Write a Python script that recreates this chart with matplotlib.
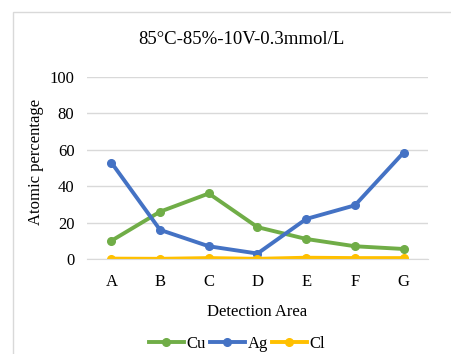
import matplotlib
matplotlib.use("Agg")
import matplotlib.pyplot as plt
from matplotlib.patches import Rectangle

categories = ["A", "B", "C", "D", "E", "F", "G"]
cu = [10, 26, 36, 17.5, 11, 7, 5.5]
ag = [53, 16, 7, 3, 22, 29.5, 58.5]
cl = [0.2, 0.1, 0.5, 0.1, 0.7, 0.5, 0.5]
yticks = [0, 20, 40, 60, 80, 100]

plt.rcParams['font.family'] = ['Liberation Serif', 'DejaVu Serif']

W, H = 452, 354
fig = plt.figure(figsize=(W/100, H/100), dpi=100)
# border
fig.patches.append(Rectangle((13/W, -0.1), 1.2, (H-12)/H + 0.1, transform=fig.transFigure,
                             fill=False, edgecolor='#d9d9d9', linewidth=1.0))

ax = fig.add_axes([87/W, 1-259/H, (428-87)/W, (259-77)/H])
x = list(range(len(categories)))
ax.plot(x, cu, color='#70ad47', lw=2.8, marker='o', ms=5.5, label='Cu')
ax.plot(x, ag, color='#4472c4', lw=2.8, marker='o', ms=5.5, label='Ag')
ax.plot(x, cl, color='#ffc000', lw=2.8, marker='o', ms=5.5, label='Cl')

ax.set_xlim(-0.5, 6.5)
ax.set_ylim(0, 100)
ax.set_yticks(yticks)
ax.set_xticks(x)
ax.set_xticklabels(categories)
ax.grid(axis='y', color='#d9d9d9', lw=1)
ax.set_axisbelow(True)
for s in ['top', 'right', 'left']:
    ax.spines[s].set_visible(False)
ax.spines['bottom'].set_color('#d9d9d9')
ax.tick_params(axis='both', length=0, labelsize=12, colors='#000000')
ax.tick_params(axis='y', pad=9)
ax.tick_params(axis='x', pad=11)
ax.set_xlabel('Detection Area', fontsize=12, labelpad=10)
ax.set_ylabel('Atomic percentage', fontsize=12)
ax.yaxis.set_label_coords((44-87)/341, (259-162)/182)
fig.text(241/W, 1-40/H, '85°C-85%-10V-0.3mmol/L', ha='center', va='center', fontsize=13.5)
ax.legend(loc='center', bbox_to_anchor=(237/W, 1-344/H), bbox_transform=fig.transFigure,
          ncol=3, frameon=False, fontsize=12, handlelength=2.1, columnspacing=0.25,
          handletextpad=0.15, borderpad=0)

fig.savefig('out.png', dpi=100)
